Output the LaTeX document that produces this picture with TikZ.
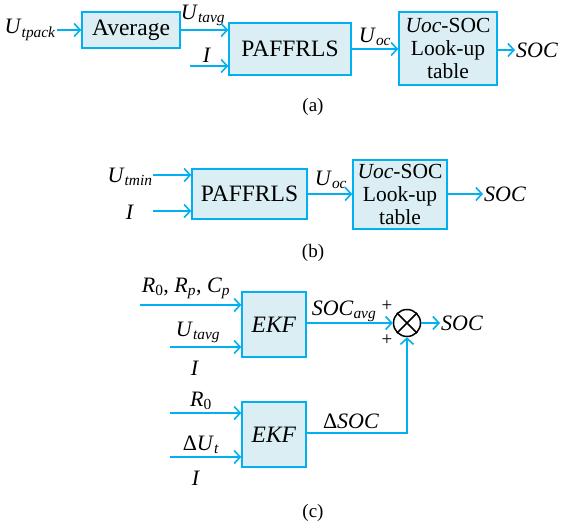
\documentclass[tikz,border=0pt]{standalone}
\usepackage{fontspec}
\setmainfont{Liberation Serif}
\usetikzlibrary{arrows.meta}
\definecolor{lineblue}{RGB}{0,176,240}
\definecolor{boxfill}{RGB}{218,238,243}
\newcommand\sbs[1]{\textsubscript{#1}}
\begin{document}
\begin{tikzpicture}[x=1pt,y=-1pt,
  blk/.style={draw=lineblue,fill=boxfill,line width=1.5pt,inner sep=0pt,align=center,font=\fontsize{23.5}{23}\selectfont},
  lut/.style={blk,font=\fontsize{21.5}{23}\selectfont},
  lbl/.style={inner sep=1pt,font=\fontsize{22}{23}\selectfont},
  captxt/.style={inner sep=0pt,font=\fontsize{19}{20}\selectfont},
  conn/.style={draw=lineblue,line width=1.6pt,-{Straight Barb[length=6pt,width=13pt]}},
  plus/.style={inner sep=0pt,font=\fontsize{19}{19}\selectfont}]
\useasboundingbox (0,0) rectangle (570,527);
% ---------- (a)
\node[blk,minimum width=98pt,minimum height=36pt] (avg) at (131,30) {Average};
\node[blk,minimum width=122pt,minimum height=52pt] (pa) at (290,49) {PAFFRLS};
\node[lut,minimum width=98pt,minimum height=73pt] (la) at (448,48.5) {\textit{Uoc}-SOC\\Look-up\\table};
\node[lbl,anchor=east] (utpack) at (57,30) {\textit{U}\sbs{\textit{tpack}}};
\node[lbl] (utavga) at (203,15) {\textit{U}\sbs{\textit{tavg}}};
\node[lbl] (ia) at (207,55) {\textit{I}};
\coordinate (ia0) at (190,66);
\node[lbl] (uoca) at (375,37) {\textit{U}\sbs{\textit{oc}}};
\node[lbl,anchor=west] (soca) at (515,50) {\textit{SOC}};
\draw[conn] (utpack.east) -- (avg.west);
\draw[conn] (avg.east) -- (avg.east -| pa.west);
\draw[conn] (ia0) -- (ia0 -| pa.west);
\draw[conn] (pa.east) -- (pa.east -| la.west);
\draw[conn] (la.east |- soca.west) -- (soca.west);
\node[captxt] (capa) at (313,107) {(a)};
% ---------- (b)
\node[blk,minimum width=115pt,minimum height=50pt] (pb) at (249.5,194) {PAFFRLS};
\node[lut,minimum width=94pt,minimum height=69pt] (lb) at (400,194.5) {\textit{Uoc}-SOC\\Look-up\\table};
\node[lbl] (utmin) at (130,177) {\textit{U}\sbs{\textit{tmin}}};
\node[lbl] (ib) at (130,212) {\textit{I}};
\coordinate (utmin0) at (153,175);
\coordinate (ib0) at (153,211);
\node[lbl] (uocb) at (331,180) {\textit{U}\sbs{\textit{oc}}};
\node[lbl,anchor=west] (socb) at (483,194) {\textit{SOC}};
\draw[conn] (utmin0) -- (utmin0 -| pb.west);
\draw[conn] (ib0) -- (ib0 -| pb.west);
\draw[conn] (pb.east) -- (pb.east -| lb.west);
\draw[conn] (lb.east |- socb.west) -- (socb.west);
\node[captxt] (capb) at (313,253) {(b)};
% ---------- (c)
\node[blk,minimum width=64pt,minimum height=65pt] (e1) at (274,324.5) {\textit{EKF}};
\node[blk,minimum width=64pt,minimum height=65pt] (e2) at (274,434.5) {\textit{EKF}};
\node[draw=black,line width=1.5pt,circle,minimum size=27pt,inner sep=0pt] (sum) at (407,323) {};
\draw[black,line width=1.5pt] (sum.45) -- (sum.225) (sum.135) -- (sum.315);
\node[lbl] (rrc) at (186,288) {\textit{R}\sbs{0}, \textit{R}\sbs{\textit{p}}, \textit{C}\sbs{\textit{p}}};
\node[lbl] (utavgc) at (198,332) {\textit{U}\sbs{\textit{tavg}}};
\node[lbl] (ic1) at (195,368) {\textit{I}};
\coordinate (rrc0) at (140,305);
\coordinate (utavgc0) at (170,347);
\node[lbl] (socavg) at (344,311) {\textit{SOC}\sbs{\textit{avg}}};
\node[plus] (p1) at (387,306) {+};
\node[plus] (p2) at (387,340) {+};
\node[lbl,anchor=west] (socc) at (440,323) {\textit{SOC}};
\node[lbl] (r0c) at (201,401) {\textit{R}\sbs{0}};
\node[lbl] (dut) at (201,445) {Δ\textit{U}\sbs{\textit{t}}};
\node[lbl] (ic2) at (196,478) {\textit{I}};
\coordinate (r0c0) at (170,413);
\coordinate (dut0) at (170,457);
\node[lbl] (dsoc) at (351,421) {Δ\textit{SOC}};
\draw[conn] (rrc0) -- (rrc0 -| e1.west);
\draw[conn] (utavgc0) -- (utavgc0 -| e1.west);
\draw[conn] (r0c0) -- (r0c0 -| e2.west);
\draw[conn] (dut0) -- (dut0 -| e2.west);
\draw[conn] (e1.east |- sum.west) -- (sum.west);
\draw[conn] (sum.east) -- (socc.west);
\draw[conn] (e2.east |- 0,433) -| (sum.south);
\node[captxt] (capc) at (313,513) {(c)};
\end{tikzpicture}
\end{document}
